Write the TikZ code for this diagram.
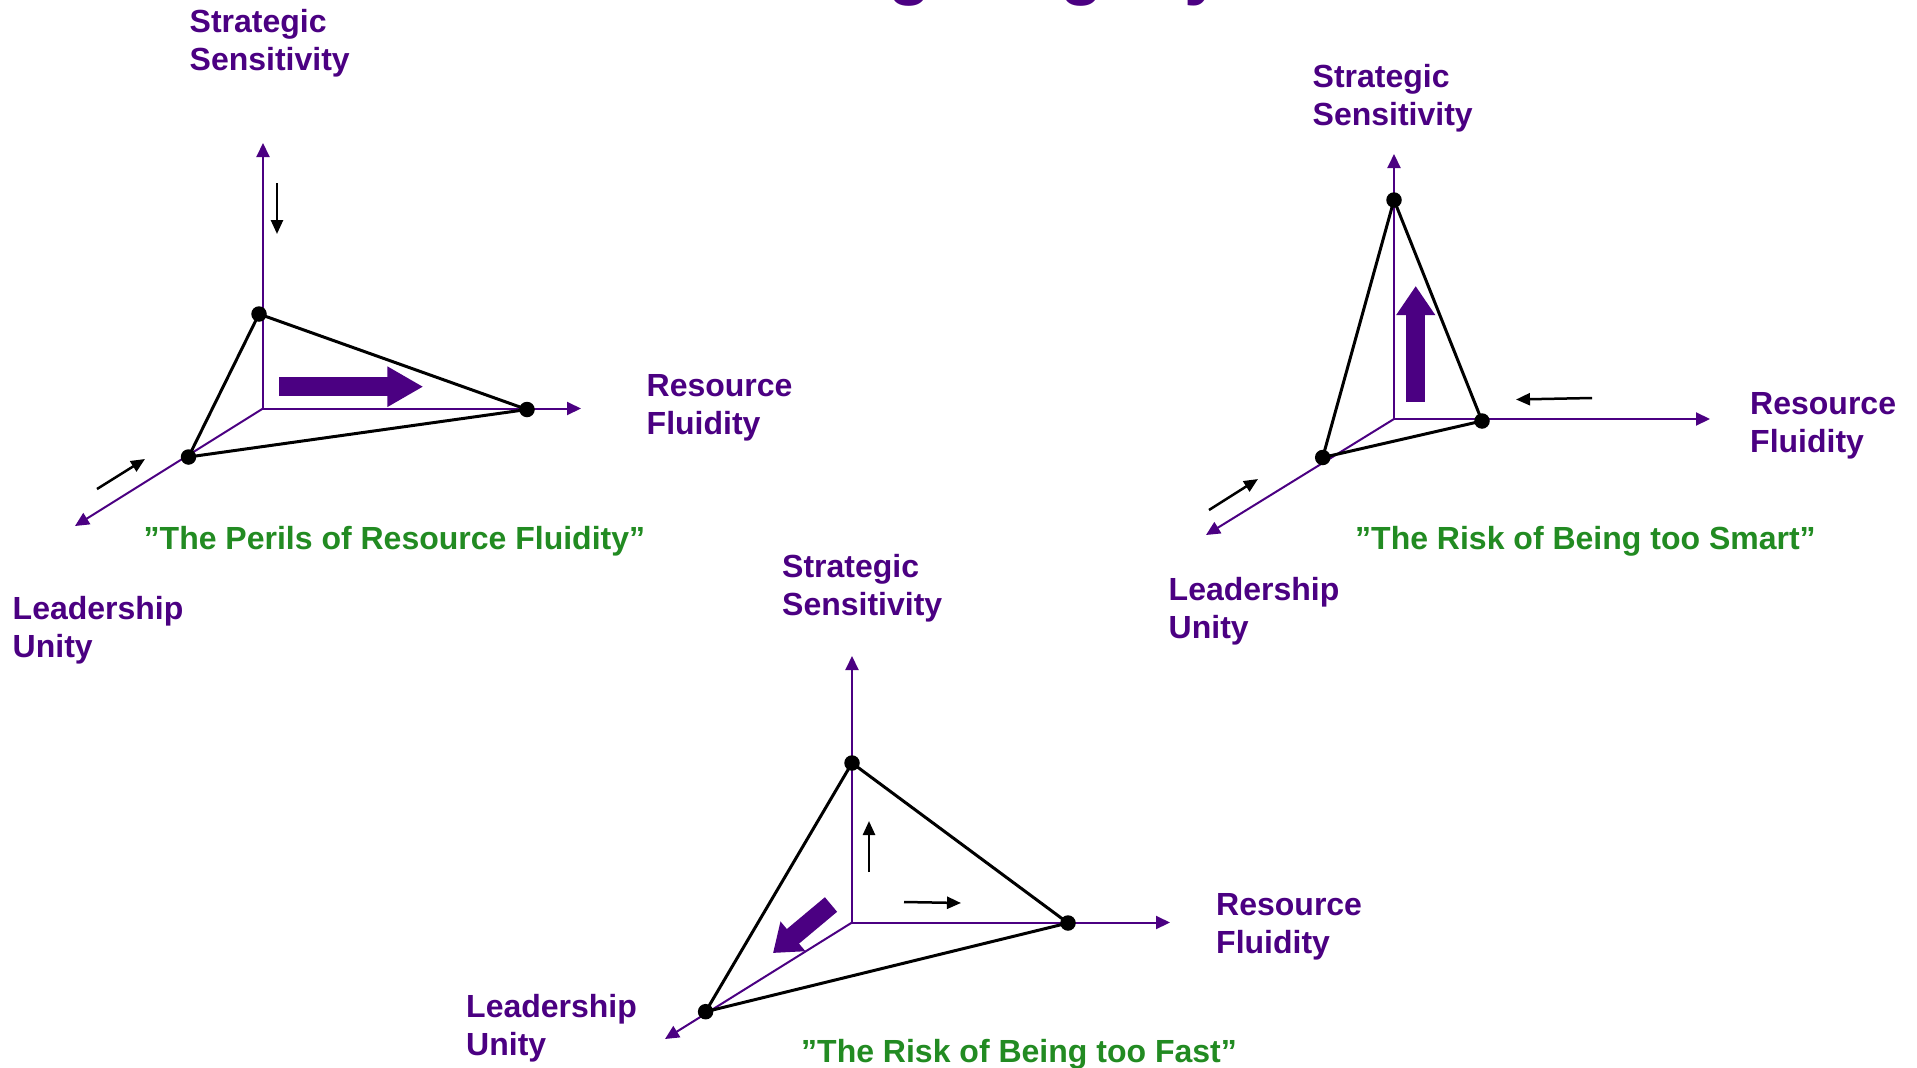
\documentclass[tikz,border=0pt]{standalone}
\usepackage{fontspec}
\setmainfont{Liberation Sans}
\usetikzlibrary{arrows.meta}
\definecolor{ind}{RGB}{75,0,130}
\definecolor{grn}{RGB}{34,139,34}
\newcommand{\twoline}[2]{\vtop{\baselineskip=38pt\hbox{#1}\hbox{#2}}}
\begin{document}
\begin{tikzpicture}[x=1pt,y=-1pt,
  axis/.style={draw=ind,line width=2pt,-{Triangle[length=14pt,width=13pt]}},
  tri/.style={draw=black,line width=3pt,line join=round},
  dot/.style={circle,fill=black,inner sep=0pt,minimum size=15.5pt},
  smallarr/.style={draw=black,line width=2.5pt,-{Triangle[length=14pt,width=12pt]}},
  fatarr/.style={draw=ind,line width=19pt},
  lab/.style={anchor=base west,inner sep=0pt,text=ind,font=\fontsize{32}{38}\selectfont\bfseries},
  motto/.style={anchor=base west,inner sep=0pt,text=grn,font=\fontsize{32}{38}\selectfont\bfseries}]
\useasboundingbox (0,0) rectangle (1917,1068);
\fill[white] (0,0) rectangle (1917,1068);

% title (only its descenders fall inside the picture)
\node[anchor=base,inner sep=0pt,text=ind,font=\fontsize{70}{80}\selectfont\bfseries] (title) at (957,-9) {Strategic Agility};

% ---------------- diagram 1 ----------------
\coordinate (O1) at (263,408.5);
\coordinate (V1) at (263,143);
\coordinate (H1) at (581,408.5);
\coordinate (D1) at (75,526);
\draw[axis] (O1) -- (V1);
\draw[axis] (O1) -- (H1);
\draw[axis] (O1) -- (D1);
\coordinate (f1s) at (279,386.7);
\coordinate (f1e) at (423.3,386.7);
\draw[fatarr,-{Triangle[length=36pt,width=38pt]}] (f1s) -- (f1e);
\node[dot] (S1) at (259,314) {};
\node[dot] (R1) at (527,409.5) {};
\node[dot] (L1) at (188.5,457) {};
\draw[tri] (S1.center) -- (R1.center) -- (L1.center) -- cycle;
\coordinate (a1s) at (277,183);
\coordinate (a1e) at (277,234);
\draw[smallarr] (a1s) -- (a1e);
\coordinate (b1s) at (97,489);
\coordinate (b1e) at (145,459);
\draw[smallarr] (b1s) -- (b1e);
\node[lab] (ss1) at (189.5,32) {\twoline{Strategic}{Sensitivity}};
\node[lab] (rf1) at (646.5,396.5) {\twoline{Resource}{Fluidity}};
\node[lab] (lu1) at (12.5,619.5) {\twoline{Leadership}{Unity}};
\node[motto] (m1) at (143.5,549) {”The Perils of Resource Fluidity”};

% ---------------- diagram 2 ----------------
\coordinate (O2) at (1394,419);
\coordinate (V2) at (1394,154);
\coordinate (H2) at (1710,419);
\coordinate (D2) at (1206,535);
\draw[axis] (O2) -- (V2);
\draw[axis] (O2) -- (H2);
\draw[axis] (O2) -- (D2);
\coordinate (f2s) at (1415.7,402);
\coordinate (f2e) at (1415.7,286);
\draw[fatarr,-{Triangle[length=29pt,width=37pt]}] (f2s) -- (f2e);
\node[dot] (S2) at (1394,200) {};
\node[dot] (R2) at (1482,421) {};
\node[dot] (L2) at (1322.7,457.5) {};
\draw[tri] (S2.center) -- (R2.center) -- (L2.center) -- cycle;
\coordinate (a2s) at (1592,398);
\coordinate (a2e) at (1516,399.5);
\draw[smallarr] (a2s) -- (a2e);
\coordinate (b2s) at (1209,510);
\coordinate (b2e) at (1258,479);
\draw[smallarr] (b2s) -- (b2e);
\node[lab] (ss2) at (1312.5,87) {\twoline{Strategic}{Sensitivity}};
\node[lab] (rf2) at (1750,414) {\twoline{Resource}{Fluidity}};
\node[lab] (lu2) at (1168.5,600.5) {\twoline{Leadership}{Unity}};
\node[motto] (m2) at (1355,549) {”The Risk of Being too Smart”};

% ---------------- diagram 3 ----------------
\coordinate (O3) at (852,922.5);
\coordinate (V3) at (852,656);
\coordinate (H3) at (1170,922.5);
\coordinate (D3) at (665,1039);
\draw[axis] (O3) -- (V3);
\draw[axis] (O3) -- (H3);
\draw[axis] (O3) -- (D3);
\coordinate (f3s) at (831,904.5);
\coordinate (f3e) at (773,953);
\draw[fatarr,-{Triangle[length=26pt,width=37pt]}] (f3s) -- (f3e);
\node[dot] (S3) at (852,763) {};
\node[dot] (R3) at (1068,923) {};
\node[dot] (L3) at (705.6,1011.7) {};
\draw[tri] (S3.center) -- (R3.center) -- (L3.center) -- cycle;
\coordinate (a3s) at (869,872);
\coordinate (a3e) at (869,821);
\draw[smallarr] (a3s) -- (a3e);
\coordinate (b3s) at (904,902);
\coordinate (b3e) at (961,903);
\draw[smallarr] (b3s) -- (b3e);
\node[lab] (ss3) at (782,577.5) {\twoline{Strategic}{Sensitivity}};
\node[lab] (rf3) at (1216,915) {\twoline{Resource}{Fluidity}};
\node[lab] (lu3) at (466,1017) {\twoline{Leadership}{Unity}};
\node[motto] (m3) at (801,1062) {”The Risk of Being too Fast”};
\end{tikzpicture}
\end{document}
